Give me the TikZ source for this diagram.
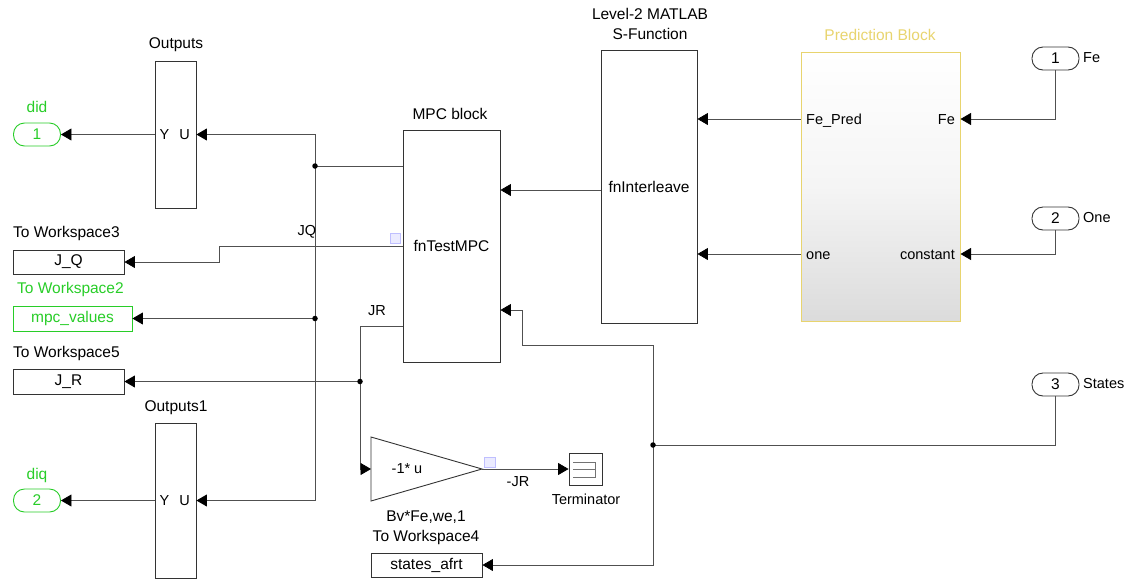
\documentclass[tikz,border=0pt]{standalone}
\usepackage{fontspec}
\setmainfont{Liberation Sans}
\usetikzlibrary{arrows.meta,shadows}
\definecolor{sgreen}{RGB}{40,205,40}
\definecolor{syellow}{RGB}{232,212,110}
\definecolor{wire}{RGB}{80,80,80}
\begin{document}
\begin{tikzpicture}[x=1pt,y=-1pt,
  blk/.style={draw=black!80,fill=white,line width=0.9pt,inner sep=0pt,
    drop shadow={shadow xshift=1.2pt,shadow yshift=-1.2pt,fill=black!40,opacity=0.6},
    font=\fontsize{15.5}{18}\selectfont},
  port/.style={draw=black!80,fill=white,line width=0.9pt,rounded corners=11pt,
    minimum width=47pt,minimum height=23pt,inner sep=0pt,font=\fontsize{15.5}{18}\selectfont},
  gport/.style={port,draw=sgreen,text=sgreen},
  lbl/.style={inner sep=0pt,font=\fontsize{15.5}{18}\selectfont},
  plbl/.style={inner sep=0pt,font=\fontsize{14.5}{17}\selectfont},
  wr/.style={draw=wire,line width=0.8pt},
  arr/.style={wr,-{Triangle[length=10.5pt,width=12pt,fill=black,color=black]}},
  dot/.style={circle,fill=black,inner sep=0pt,minimum size=5.5pt},
  icon/.style={draw=blue!25,fill=blue!8,line width=0.5pt}
]
\useasboundingbox (0,0) rectangle (1139,581);

% ---------- blocks ----------
\node[blk,minimum width=41pt,minimum height=147pt] (outs) at (175.5,134.5) {};
\node[plbl] at (164.5,134.5) {Y};
\node[plbl] at (184.5,134.5) {U};
\node[lbl] at (176,45) {Outputs};

\node[blk,minimum width=41pt,minimum height=155pt] (outs1) at (175.5,500.5) {};
\node[plbl] at (164.5,500.5) {Y};
\node[plbl] at (184.5,500.5) {U};
\node[lbl] at (176,408) {Outputs1};

\node[gport] (did) at (37,134.5) {1};
\node[lbl,text=sgreen] at (37,107) {did};
\node[gport] (diq) at (37,500.5) {2};
\node[lbl,text=sgreen] at (37,475) {diq};

\node[blk,minimum width=97pt,minimum height=232pt] (mpc) at (451.5,246) {fnTestMPC};
\node[lbl] at (450,114) {MPC block};

\node[blk,minimum width=96pt,minimum height=273pt] (sfun) at (649,186.5) {fnInterleave};
\node[lbl] at (650,14) {Level-2 MATLAB};
\node[lbl] at (650,34) {S-Function};

\node[draw=syellow,line width=1pt,top color=white,bottom color=black!14,middle color=white!96!black,
  minimum width=159pt,minimum height=269pt,inner sep=0pt] (pred) at (880.5,186.5) {};
\node[lbl,text=syellow] at (880,35) {Prediction Block};
\node[plbl,anchor=base west] at (806,124.2) {Fe\_Pred};
\node[plbl,anchor=base west] at (806,259.2) {one};
\node[plbl,anchor=base east] at (955,124.2) {Fe};
\node[plbl,anchor=base east] at (955,259.2) {constant};

\node[port] (in1) at (1055.5,58.5) {1};
\node[plbl,anchor=west] at (1083,58) {Fe};
\node[port] (in2) at (1055.5,218.5) {2};
\node[plbl,anchor=west] at (1083,218) {One};
\node[port] (in3) at (1055.5,384.5) {3};
\node[plbl,anchor=west] at (1083,384) {States};

\node[blk,minimum width=111pt,minimum height=24pt] (jq) at (68.5,262) {J\_Q};
\node[lbl,anchor=west] at (13,233) {To Workspace3};
\node[blk,draw=sgreen,minimum width=119pt,minimum height=25pt,text=sgreen] (mpcv) at (72.5,318.5) {mpc\_values};
\node[lbl,anchor=west,text=sgreen] at (17,289) {To Workspace2};
\node[blk,minimum width=111pt,minimum height=25pt] (jr) at (68.5,381.5) {J\_R};
\node[lbl,anchor=west] at (13,353) {To Workspace5};

\node[blk,minimum width=111pt,minimum height=24pt] (sa) at (426.5,565) {states\_afrt};
\node[lbl] at (426,517) {Bv*Fe,we,1};
\node[lbl] at (426,537) {To Workspace4};

% gain
\coordinate (gin) at (371,469);
\coordinate (gout) at (482,469);
\draw[draw=black!80,fill=white,line width=0.9pt] (371,437) -- (gout) -- (371,501) -- cycle;
\node[plbl] at (407,469) {-1* u};

% terminator
\node[draw=black!80,fill=white,line width=0.9pt,minimum width=33pt,minimum height=32pt,inner sep=0pt,
  drop shadow={shadow xshift=1pt,shadow yshift=-1pt,fill=black!40,opacity=0.6}] (term) at (585.5,469) {};
\draw[black!55,line width=0.6pt] (573,462) -- (595,462) -- (595,477) -- (573,477) (573,469.5) -- (595,469.5);
\node[plbl] at (586,499) {Terminator};

% icons
\draw[icon] (390,233) rectangle (400,243);
\draw[icon] (484,457) rectangle (495,467);

% ---------- wires ----------
\coordinate (j1) at (315,166);
\coordinate (j2) at (315,318.5);
\coordinate (j3) at (360,381.5);
\coordinate (j4) at (653,445);

\draw[arr] (outs.west) -- (did.east);
\draw[arr] (outs1.west) -- (diq.east);
\draw[wr] (mpc.west |- j1) -- (j1);
\draw[arr] (j1) -- (315,134.5) -- (outs.east);
\draw[arr] (j1) -- (315,500.5) -- (outs1.east);
\draw[arr] (j2) -- (mpcv.east);
\node[dot] at (j1) {};
\node[dot] at (j2) {};

\draw[arr] (403,246) -- (219,246) -- (219,262) -- (jq.east);
\node[plbl] at (307,232) {JQ};

\draw[wr] (403,326) -- (360,326) -- (j3);
\draw[arr] (j3) -- (jr.east);
\draw[arr] (j3) -- (360,469) -- (gin);
\node[dot] at (j3) {};
\node[plbl] at (377,311) {JR};

\draw[arr] (gout) -- (term.west);
\node[plbl] at (518,482) {-JR};

\draw[arr] (sfun.west |- 0,190) -- (mpc.east |- 0,190);
\draw[arr] (pred.west |- 0,119) -- (sfun.east |- 0,119);
\draw[arr] (pred.west |- 0,254) -- (sfun.east |- 0,254);

\draw[arr] (in1.south) -- (1055.5,119) -- (pred.east |- 0,119);
\draw[arr] (in2.south) -- (1055.5,254) -- (pred.east |- 0,254);
\draw[wr] (in3.south) -- (1055.5,445) -- (j4);
\draw[arr] (j4) -- (653,345) -- (522,345) -- (522,310) -- (mpc.east |- 0,310);
\draw[arr] (j4) -- (653,565) -- (sa.east);
\node[dot] at (j4) {};
\end{tikzpicture}
\end{document}
